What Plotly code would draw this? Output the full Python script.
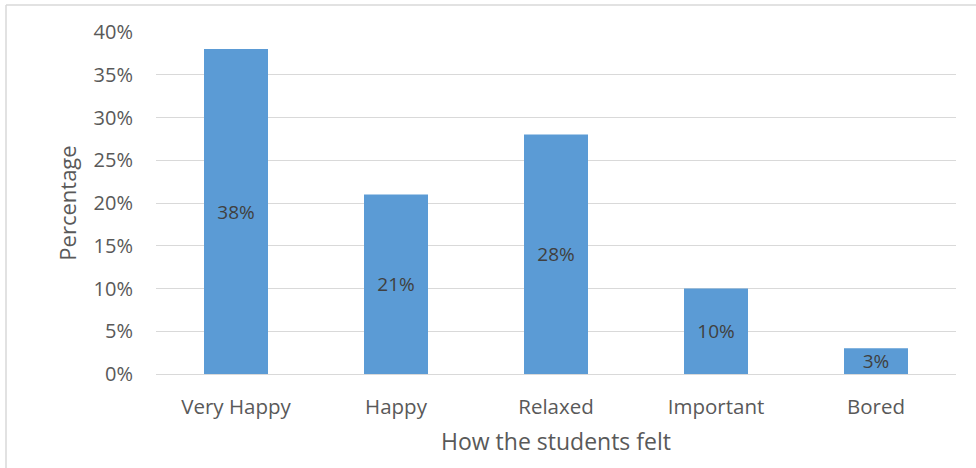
import plotly.graph_objects as go

categories = ["Very Happy", "Happy", "Relaxed", "Important", "Bored"]
percentages = [38, 21, 28, 10, 3]
y_ticks = [0, 5, 10, 15, 20, 25, 30, 35, 40]
y_tick_labels = [f"{v}%" for v in y_ticks]
bar_labels = [f"{v}%" for v in percentages]

FONT = "Open Sans, Liberation Sans, sans-serif"
TEXT = "#595959"

fig = go.Figure(
    go.Bar(
        x=categories,
        y=percentages,
        width=0.4,
        marker=dict(color="#5B9BD5", line=dict(width=0)),
        text=bar_labels,
        textposition="inside",
        insidetextanchor="middle",
        textangle=0,
        constraintext="none",
        textfont=dict(family=FONT, size=19, color="#404040"),
        cliponaxis=False,
    )
)

fig.update_layout(
    width=976,
    height=468,
    margin=dict(l=156, r=20, t=32, b=94),
    paper_bgcolor="white",
    plot_bgcolor="white",
    showlegend=False,
    xaxis=dict(
        title=dict(text="How the students felt", font=dict(family=FONT, size=23, color=TEXT), standoff=15),
        tickfont=dict(family=FONT, size=20.5, color=TEXT),
        showgrid=False,
        showline=False,
        ticks="",
        ticklabelstandoff=18,
    ),
    yaxis=dict(
        title=dict(text="Percentage", font=dict(family=FONT, size=22, color=TEXT), standoff=10),
        range=[0, 40],
        tickvals=y_ticks,
        ticktext=y_tick_labels,
        tickfont=dict(family=FONT, size=20, color=TEXT),
        showgrid=True,
        gridcolor="#D9D9D9",
        gridwidth=1,
        zeroline=True,
        zerolinecolor="#D9D9D9",
        zerolinewidth=1,
        showline=False,
        ticks="",
        ticklabelstandoff=22,
    ),
    shapes=[
        # chart-area frame: top and left edges
        dict(type="line", xref="paper", yref="paper",
             x0=-150 / 800, x1=1 + 20 / 800, y0=1 + 27 / 342, y1=1 + 27 / 342,
             line=dict(color="#D9D9D9", width=1.5), layer="below"),
        dict(type="line", xref="paper", yref="paper",
             x0=-150 / 800, x1=-150 / 800, y0=1 + 27 / 342, y1=-94 / 342,
             line=dict(color="#D9D9D9", width=1.5), layer="below"),
    ],
)

fig.write_html("out.html")
